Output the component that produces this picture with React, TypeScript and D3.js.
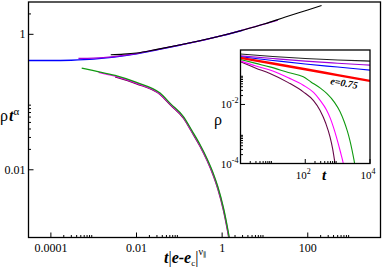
import * as d3 from 'd3'

// main plot: scaled collapse  rho * t^alpha  vs  t|e-e_c|^nu
const upperBlueX = [3e-5, 1e-4, 3e-4, 1e-3, 3e-3, 0.01, 0.03, 0.1, 0.3, 1, 3]
const upperBlueY = [0.41, 0.41, 0.415, 0.43, 0.46, 0.515, 0.59, 0.69, 0.8, 0.955, 1.15]
const upperVioletX = [4.4e-4, 1e-3, 3e-3, 0.01, 0.03, 0.1, 0.3, 1, 3, 10, 20]
const upperVioletY = [0.44, 0.445, 0.47, 0.52, 0.595, 0.69, 0.8, 0.955, 1.15, 1.43, 1.62]
const upperBlackX = [2.5e-3, 5e-3, 0.01, 0.03, 0.1, 0.3, 1, 3, 10, 30, 100, 210]
const upperBlackY = [0.5, 0.51, 0.53, 0.6, 0.695, 0.805, 0.96, 1.15, 1.43, 1.8, 2.29, 2.66]

const lowerGreenX = [5.25e-4, 1e-3, 3.16e-3, 0.01, 0.0355, 0.063, 0.1245, 0.2, 0.3055, 0.447, 0.627, 0.794, 1.072, 1.403, 1.66]
const lowerGreenY = [0.318, 0.29, 0.247, 0.195, 0.1355, 0.094, 0.061, 0.0372, 0.0234, 0.01445, 0.0087, 0.00562, 0.00275, 0.00117, 0.00063]
const lowerMagentaX = [1.3e-3, 3.16e-3, 0.01, 0.0355, 0.063, 0.1245, 0.2, 0.3055, 0.447, 0.627, 0.794, 1.072, 1.403, 1.66]
const lowerMagentaY = [0.275, 0.241, 0.19, 0.132, 0.0915, 0.0593, 0.0361, 0.0227, 0.0140, 0.0084, 0.00542, 0.00264, 0.00112, 0.0006]
const lowerMaroonX = [3.16e-3, 0.01, 0.0355, 0.063, 0.1245, 0.2, 0.3055, 0.447, 0.627, 0.794, 1.072, 1.403, 1.66]
const lowerMaroonY = [0.236, 0.186, 0.129, 0.0893, 0.0578, 0.0352, 0.0221, 0.0136, 0.0081, 0.0052, 0.00252, 0.00106, 0.00056]

// inset: rho vs t
const insetT = [1, 10, 100, 1000, 10000]
const insetBlack = [0.51, 0.42, 0.36, 0.32, 0.295]
const insetViolet = [0.444, 0.36, 0.295, 0.25, 0.215]
const insetBlue = [0.411, 0.31, 0.235, 0.185, 0.146]
const insetRed = [0.38, 0.244, 0.156, 0.099, 0.063]
const insetGreenT = [1, 3, 8, 30, 87, 150, 300, 460, 800, 1180, 1600, 2000, 2400, 2800, 3200, 3600]
const insetGreen = [0.335, 0.246, 0.188, 0.121, 0.0863, 0.058, 0.035, 0.0236, 0.0118, 0.0058, 0.0026, 0.00125, 0.0006, 0.00028, 0.000132, 0.000062]
const insetMagentaT = [1, 3, 8.1, 30, 87, 180, 285, 450, 600, 736, 900, 1100, 1300, 1500, 1700]
const insetMagenta = [0.3, 0.2, 0.146, 0.08, 0.045, 0.0255, 0.014, 0.0066, 0.0033, 0.00174, 0.00085, 0.00038, 0.00019, 0.0001, 0.00005]
const insetMaroonT = [1, 3, 8.1, 30, 87, 180, 285, 430, 582, 700, 830, 950]
const insetMaroon = [0.278, 0.17, 0.112, 0.055, 0.0267, 0.0135, 0.0064, 0.0023, 0.0008, 0.00032, 0.0001, 0.000035]

const mainXMajor = [1e-4, 1e-2, 1, 100]
const mainXLabels = ['0.0001', '0.01', '1', '100']
const mainYMajor = [1e-2, 1]
const mainYLabels = ['0.01', '1']
const insetXMajor = [1, 100, 10000]
const insetXExp = ['0', '2', '4']
const insetYMajor = [1e-4, 1e-2]
const insetYExp = ['-4', '-2']
const minorFactors = [2, 3, 4, 5, 6, 7, 8, 9]

const C = {
  black: '#000000',
  violet: '#a000d8',
  blue: '#0000ff',
  red: '#ff0000',
  green: '#109a10',
  magenta: '#ff00ff',
  maroon: '#670748',
}

const serif = '"Liberation Serif", "DejaVu Serif", serif'

function minors(majors: number[], lo: number, hi: number) {
  const out: number[] = []
  majors.forEach(m => minorFactors.forEach(k => {
    const v = m * k
    if (v > lo && v < hi) out.push(v)
  }))
  return out
}

export default function App() {
  const W = 382, H = 269
  const m = { l: 28.5, r: 380.5, t: 2, b: 237.5 }
  const x = d3.scaleLog().domain([3e-5, 5000]).range([m.l, m.r])
  const y = d3.scaleLog().domain([0.001, 3]).range([m.b, m.t])

  const ins = { l: 240.5, r: 370, t: 50, b: 163.5 }
  const ix = d3.scaleLog().domain([1, 10000]).range([ins.l, ins.r])
  const iy = d3.scaleLog().domain([1e-4, 0.7]).range([ins.b, ins.t])

  const line = (xs: number[], ys: number[], sx: any, sy: any) =>
    d3.line<number>()
      .x((_, i) => sx(xs[i]))
      .y(d => sy(d))
      .curve(d3.curveMonotoneX)(ys) || ''

  const mainSeries = [
    { xs: upperBlueX, ys: upperBlueY, c: C.blue, w: 1.4 },
    { xs: upperVioletX, ys: upperVioletY, c: C.violet, w: 1.3 },
    { xs: upperBlackX, ys: upperBlackY, c: C.black, w: 1.1 },
    { xs: lowerMaroonX, ys: lowerMaroonY, c: C.maroon, w: 1.3 },
    { xs: lowerMagentaX, ys: lowerMagentaY, c: C.magenta, w: 1.3 },
    { xs: lowerGreenX, ys: lowerGreenY, c: C.green, w: 1.3 },
  ]
  const insetSeries = [
    { xs: insetT, ys: insetBlack, c: '#222', w: 1.1 },
    { xs: insetT, ys: insetViolet, c: C.violet, w: 1.1 },
    { xs: insetT, ys: insetBlue, c: C.blue, w: 1.1 },
    { xs: insetMaroonT, ys: insetMaroon, c: C.maroon, w: 1.1 },
    { xs: insetMagentaT, ys: insetMagenta, c: C.magenta, w: 1.1 },
    { xs: insetGreenT, ys: insetGreen, c: C.green, w: 1.1 },
    { xs: insetT, ys: insetRed, c: C.red, w: 2.4 },
  ]

  const mxMinor = minors(mainXMajor, 3e-5, 5000)
  const myMinor = minors(mainYMajor, 0.001, 3)
  const ixMinor = minors(insetXMajor, 1, 10000)
  const iyMinor = minors(insetYMajor, 1e-4, 0.7)

  return (
    <svg width={W} height={H} style={{ position: 'absolute', left: 0, top: 0, background: '#fff' }}
      fontFamily={serif}>
      <defs>
        <clipPath id="mainClip"><rect x={m.l} y={m.t} width={m.r - m.l} height={m.b - m.t} /></clipPath>
        <clipPath id="insClip"><rect x={ins.l} y={ins.t} width={ins.r - ins.l} height={ins.b - ins.t} /></clipPath>
      </defs>

      {/* main curves */}
      <g clipPath="url(#mainClip)" fill="none">
        {mainSeries.map((s, i) => (
          <path key={i} d={line(s.xs, s.ys, x, y)} stroke={s.c} strokeWidth={s.w} />
        ))}
      </g>

      {/* main frame + ticks */}
      <rect x={m.l} y={m.t} width={m.r - m.l} height={m.b - m.t} fill="none" stroke="#000" strokeWidth={1.3} />
      {mainXMajor.map((v, i) => (
        <g key={'mx' + i}>
          <line x1={x(v)} x2={x(v)} y1={m.b} y2={m.b - 5} stroke="#000" />
          <text x={x(v)} y={m.b + 14} fontSize={12} textAnchor="middle">{mainXLabels[i]}</text>
        </g>
      ))}
      {mxMinor.map((v, i) => (
        <line key={'mxm' + i} x1={x(v)} x2={x(v)} y1={m.b} y2={m.b - 2.5} stroke="#000" />
      ))}
      {mainYMajor.map((v, i) => (
        <g key={'my' + i}>
          <line x1={m.l} x2={m.l + 5} y1={y(v)} y2={y(v)} stroke="#000" />
          <text x={m.l - 3} y={y(v) + 4} fontSize={12} textAnchor="end">{mainYLabels[i]}</text>
        </g>
      ))}
      {myMinor.map((v, i) => (
        <line key={'mym' + i} x1={m.l} x2={m.l + 2.5} y1={y(v)} y2={y(v)} stroke="#000" />
      ))}

      {/* main axis titles */}
      <text x={0} y={121} fontSize={16}>
        <tspan>ρ</tspan>
        <tspan fontWeight="bold" fontStyle="italic" dx={1}>t</tspan>
        <tspan fontSize={11} dy={-6}>α</tspan>
      </text>
      <text x={164} y={263} fontSize={16}>
        <tspan fontWeight="bold" fontStyle="italic">t</tspan>
        <tspan>|</tspan>
        <tspan fontWeight="bold" fontStyle="italic">e-e</tspan>
        <tspan fontSize={9} dy={3}>c</tspan>
        <tspan dy={-3}>|</tspan>
        <tspan fontSize={10} dy={-8}>ν</tspan>
        <tspan fontSize={7} dy={2}>∥</tspan>
      </text>

      {/* inset */}
      <rect x={ins.l} y={ins.t} width={ins.r - ins.l} height={ins.b - ins.t} fill="#fff" />
      <g clipPath="url(#insClip)" fill="none">
        {insetSeries.map((s, i) => (
          <path key={i} d={line(s.xs, s.ys, ix, iy)} stroke={s.c} strokeWidth={s.w} />
        ))}
      </g>
      <rect x={ins.l} y={ins.t} width={ins.r - ins.l} height={ins.b - ins.t} fill="none" stroke="#000" strokeWidth={1.3} />
      {insetXMajor.map((v, i) => (
        <g key={'ix' + i}>
          <line x1={ix(v)} x2={ix(v)} y1={ins.b} y2={ins.b - 4.5} stroke="#000" />
          {i > 0 && (
            <text x={ix(v) - 2} y={178.5} fontSize={11} textAnchor="middle">
              10<tspan fontSize={8} dy={-5}>{insetXExp[i]}</tspan>
            </text>
          )}
        </g>
      ))}
      {ixMinor.map((v, i) => (
        <line key={'ixm' + i} x1={ix(v)} x2={ix(v)} y1={ins.b} y2={ins.b - 2.5} stroke="#000" />
      ))}
      {insetYMajor.map((v, i) => (
        <g key={'iy' + i}>
          <line x1={ins.l} x2={ins.l + 4.5} y1={iy(v)} y2={iy(v)} stroke="#000" />
          <text x={ins.l - 2} y={iy(v) + 4} fontSize={11} textAnchor="end">
            10<tspan fontSize={8} dy={-5}>{insetYExp[i]}</tspan>
          </text>
        </g>
      ))}
      {iyMinor.map((v, i) => (
        <line key={'iym' + i} x1={ins.l} x2={ins.l + 2.5} y1={iy(v)} y2={iy(v)} stroke="#000" />
      ))}
      <text x={214} y={125} fontSize={16}>ρ</text>
      <text x={322} y={180} fontSize={15} fontWeight="bold" fontStyle="italic">t</text>
      <text x={330} y={84} fontSize={10} fontWeight="bold" fontStyle="italic"
        transform="rotate(10 330 84)">e=0.75</text>
    </svg>
  )
}
